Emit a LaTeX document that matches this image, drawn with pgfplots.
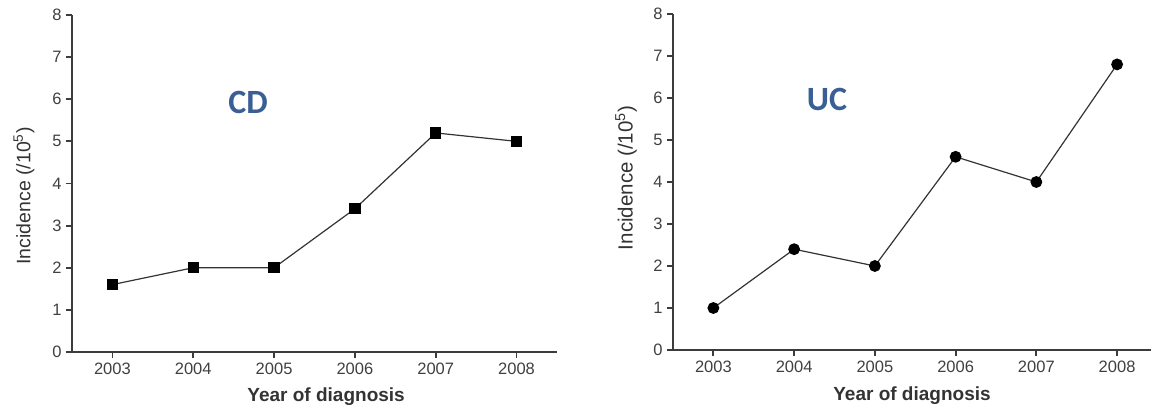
\documentclass[border=0pt]{standalone}
\usepackage{pgfplots}
\pgfplotsset{compat=1.18}
\usepackage{fontspec}
\setmainfont{Liberation Sans}
\newfontfamily\titlefont{Carlito}
\definecolor{axgray}{HTML}{3C3C3C}
\definecolor{txtgray}{HTML}{333333}
\definecolor{ticktxt}{HTML}{404040}
\definecolor{ttlblue}{HTML}{3A5F95}
\pgfplotsset{
  myax/.style={
    scale only axis,
    axis lines*=left,
    ymin=0, ymax=8,
    ytick={0,1,...,8},
    xtick={2003,2004,2005,2006,2007,2008},
    xticklabels={2003,2004,2005,2006,2007,2008},
    tick align=outside,
    major tick length=6pt,
    axis line style={line width=2.3pt, color=axgray},
    tick style={line width=1.8pt, color=axgray},
    /pgf/number format/assume math mode=true,
    xticklabel style={font=\fontsize{16.5}{17}\selectfont, text=ticktxt, yshift=-1pt},
    yticklabel style={font=\fontsize{16.5}{17}\selectfont, text=ticktxt, xshift=-1pt},
    clip=false,
  }
}
\begin{document}
\begin{tikzpicture}
\useasboundingbox (0,0) rectangle (1152pt,411pt);
% Left panel: CD
\begin{axis}[myax,
  at={(72pt,59pt)}, anchor=south west,
  width=485pt, height=337pt,
  xmin=2002.5, xmax=2008.5,
  xlabel={\textbf{Year of diagnosis}},
  ylabel={Incidence (/10\textsuperscript{5})},
  every axis x label/.style={at={(axis description cs:0.524,-0.131)}, anchor=center, font=\fontsize{19}{20}\selectfont, text=txtgray},
  every axis y label/.style={at={(axis description cs:-0.099,0.463)}, anchor=center, rotate=90, font=\fontsize{19.5}{20}\selectfont, text=txtgray},
]
\addplot[line width=1.2pt, color=txtgray, mark=square*, mark size=5pt, mark options={solid, fill=black, draw=black}]
  coordinates {(2003,1.6) (2004,2.0) (2005,2.0) (2006,3.4) (2007,5.2) (2008,5.0)};
\node[font=\titlefont\bfseries\fontsize{34}{34}\selectfont, text=ttlblue] at (axis description cs:0.363,0.739) {CD};
\end{axis}
% Right panel: UC
\begin{axis}[myax,
  at={(673pt,61pt)}, anchor=south west,
  width=478pt, height=336pt,
  xmin=2002.5, xmax=2008.42,
  xlabel={\textbf{Year of diagnosis}},
  ylabel={Incidence (/10\textsuperscript{5})},
  every axis x label/.style={at={(axis description cs:0.5,-0.137)}, anchor=center, font=\fontsize{19}{20}\selectfont, text=txtgray},
  every axis y label/.style={at={(axis description cs:-0.098,0.512)}, anchor=center, rotate=90, font=\fontsize{20.5}{21}\selectfont, text=txtgray},
]
\addplot[line width=1.2pt, color=txtgray, mark=*, mark size=5.3pt, mark options={solid, fill=black, draw=black}]
  coordinates {(2003,1.0) (2004,2.4) (2005,2.0) (2006,4.6) (2007,4.0) (2008,6.8)};
\node[font=\titlefont\bfseries\fontsize{34}{34}\selectfont, text=ttlblue] at (axis description cs:0.322,0.747) {UC};
\end{axis}
\end{tikzpicture}
\end{document}
